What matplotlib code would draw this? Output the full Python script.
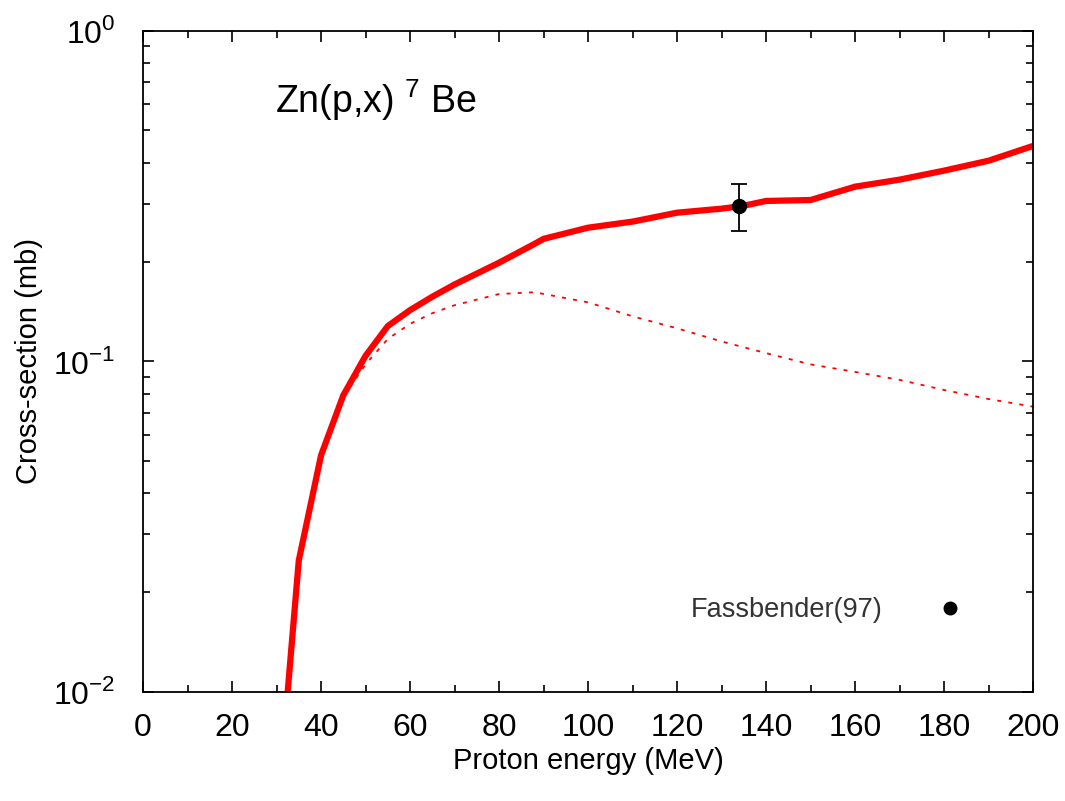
import matplotlib
matplotlib.use("Agg")
import matplotlib.pyplot as plt
from matplotlib.lines import Line2D
from matplotlib.ticker import MultipleLocator, LogLocator, NullFormatter, FixedLocator

plt.rcParams['font.family'] = ['Liberation Sans', 'DejaVu Sans']

# Model (solid) curve
E_total = [32.5, 35, 40, 45, 50, 55, 60, 65, 70, 80, 88, 90, 100, 110, 120, 130, 135, 140, 150, 160, 170, 180, 190, 200]
sig_total = [0.010, 0.025, 0.052, 0.079, 0.104, 0.128, 0.143, 0.157, 0.171, 0.199, 0.227, 0.235, 0.254, 0.265, 0.282, 0.290, 0.296, 0.306, 0.308, 0.338, 0.355, 0.378, 0.405, 0.449]

# Model (dotted) component
E_comp = [32.5, 35, 40, 45, 50, 55, 60, 65, 70, 80, 88, 100, 110, 120, 130, 140, 150, 160, 170, 180, 190, 200]
sig_comp = [0.010, 0.025, 0.052, 0.078, 0.098, 0.117, 0.130, 0.140, 0.148, 0.160, 0.162, 0.151, 0.137, 0.126, 0.115, 0.106, 0.098, 0.093, 0.088, 0.082, 0.077, 0.073]

# Experimental data
E_exp = [134]
sig_exp = [0.296]
err_lo = [0.047]
err_hi = [0.049]

ytick_vals = [0.01, 0.1, 1.0]
ytick_labels = [r'10$^{\mathregular{-2}}$', r'10$^{\mathregular{-1}}$', r'10$^{\mathregular{0}}$']

fig = plt.figure(figsize=(10.65, 8.01), dpi=100)
ax = fig.add_axes([0.1343, 0.1361, 0.8357, 0.8252])

ax.plot(E_total, sig_total, color='#ff0000', lw=4.5, solid_capstyle='butt')
ax.plot(E_comp, sig_comp, color='#ff0000', lw=1.3, ls=(0, (2.2, 4)))
ax.errorbar(E_exp, sig_exp, yerr=[err_lo, err_hi], fmt='o', color='black',
            ms=10, capsize=5.5, elinewidth=1.3, capthick=1.3, zorder=5)

ax.set_yscale('log')
ax.set_xlim(0, 200)
ax.set_ylim(0.01, 1.0)

ax.xaxis.set_major_locator(MultipleLocator(20))
ax.xaxis.set_minor_locator(MultipleLocator(10))
ax.yaxis.set_major_locator(FixedLocator(ytick_vals))
ax.yaxis.set_minor_locator(LogLocator(base=10, subs=range(2, 10)))
ax.yaxis.set_minor_formatter(NullFormatter())
ax.set_yticklabels(ytick_labels)

ax.tick_params(which='both', direction='in', top=True, right=True, labelsize=23)
ax.tick_params(axis='x', pad=15)
ax.tick_params(axis='y', pad=20)
ax.tick_params(which='major', length=8, width=1.2)
ax.tick_params(which='minor', length=5, width=1.2)
for s in ax.spines.values():
    s.set_linewidth(1.3)

ax.set_xlabel('Proton energy (MeV)', fontsize=21, labelpad=3)
ax.set_ylabel('Cross-section (mb)', fontsize=21, labelpad=7)

ax.text(0.148, 0.895, r'Zn(p,x) $^{\mathregular{7}}$ Be', transform=ax.transAxes,
        fontsize=27, va='center', ha='left')

handle = Line2D([], [], marker='o', ls='none', color='black', ms=9)
ax.legend([handle], ['Fassbender(97)'], loc='center right',
          bbox_to_anchor=(0.965, 0.124), frameon=False,
          markerfirst=False, fontsize=19.5, handlelength=2.0, handletextpad=1.5,
          labelcolor='#333333')

fig.savefig('out.png', dpi=100)
